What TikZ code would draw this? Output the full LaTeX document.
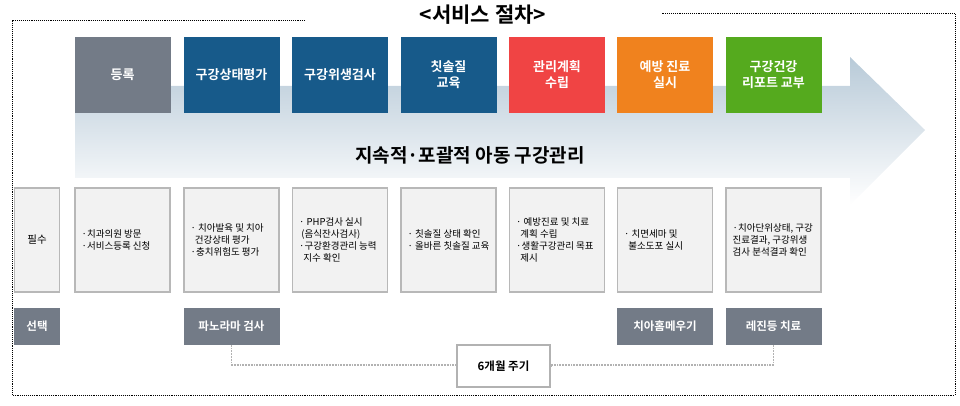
\documentclass[tikz,border=0pt]{standalone}
\usepackage{fontspec}
\setmainfont{Noto Sans CJK KR}
\newfontfamily\kb{Noto Sans CJK KR Bold}
\usetikzlibrary{shadings}
\definecolor{cgray}{HTML}{737B87}
\definecolor{cblue}{HTML}{175A8A}
\definecolor{cred}{HTML}{F04444}
\definecolor{corange}{HTML}{F0821E}
\definecolor{cgreen}{HTML}{55AA1E}
\definecolor{arrtop}{HTML}{B8CAD8}
\tikzset{
 top/.style={minimum width=96pt,minimum height=76pt,inner sep=0pt,text=white,align=center,font=\kb\fontsize{13}{16}\selectfont},
 low/.style={draw=black!28,line width=1.6pt,fill=black!5,minimum width=95pt,minimum height=104pt,inner sep=0pt,align=left},
 ltext/.style={anchor=west,align=left,font=\fontsize{9.5}{12}\selectfont,xshift=4pt},
 sel/.style={fill=cgray,minimum width=96pt,minimum height=37pt,inner sep=0pt,text=white,font=\kb\fontsize{11.5}{13}\selectfont},
 frame/.style={densely dotted,line width=0.9pt},
 conn/.style={densely dotted,line width=1.8pt,black!30}
}
\begin{document}
\begin{tikzpicture}[x=1pt,y=-1pt]
\useasboundingbox (0,0) rectangle (960,406);
% frame
\draw[frame] (305,20) -- (12,20) -- (12,395) -- (955,395) -- (955,13) -- (662,13);
\node[font=\kb\fontsize{21}{24}\selectfont] (title) at (483,15) {<서비스 절차>};
% arrow
\shade[top color=arrtop,bottom color=white] (75,86) -- (850,86) -- (850,57) -- (925,130) -- (850,205) -- (850,178) -- (75,178) -- cycle;
\node[font=\kb\fontsize{19}{22}\selectfont] (band) at (470,155) {지속적·포괄적 아동 구강관리};
% top boxes
\node[top,fill=cgray] (t1) at (122.5,75) {등록};
\node[top,fill=cblue] (t2) at (231.5,75) {구강상태평가};
\node[top,fill=cblue] (t3) at (340,75) {구강위생검사};
\node[top,fill=cblue] (t4) at (448.5,75) {칫솔질\\교육};
\node[top,fill=cred] (t5) at (557,75) {관리계획\\수립};
\node[top,fill=corange] (t6) at (665,75) {예방 진료\\실시};
\node[top,fill=cgreen] (t7) at (773.5,75) {구강건강\\리포트 교부};
% lower boxes
\node[low,minimum width=45pt,align=center,font=\fontsize{10.5}{12}\selectfont] (l0) at (37,240) {필수};
\node[low] (l1) at (122.5,240) {};
\node[ltext] at (l1.west) {·치과의원 방문\\·서비스등록 신청};
\node[low] (l2) at (231.5,240) {};
\node[ltext] at (l2.west) {· 치아발육 및 치아\\\ \ 건강상태 평가\\·충치위험도 평가};
\node[low] (l3) at (340,240) {};
\node[ltext] at (l3.west) {· PHP검사 실시\\\ (음식잔사검사)\\·구강환경관리 능력\\\ \ 지수 확인};
\node[low] (l4) at (448.5,240) {};
\node[ltext] at (l4.west) {· 칫솔질 상태 확인\\· 올바른 칫솔질 교육};
\node[low] (l5) at (557,240) {};
\node[ltext] at (l5.west) {· 예방진료 및 치료\\\ \ 계획 수립\\·생활구강관리 목표\\\ \ 제시};
\node[low] (l6) at (665,240) {};
\node[ltext] at (l6.west) {· 치면세마 및\\\ \ 불소도포 실시};
\node[low] (l7) at (773.5,240) {};
\node[ltext] at (l7.west) {·치아단위상태, 구강\\진료결과, 구강위생\\검사 분석결과 확인};
% select row
\node[sel,minimum width=46pt] (s0) at (37,326) {선택};
\node[sel] (s2) at (231.5,326) {파노라마 검사};
\node[sel] (s6) at (665,326) {치아홈메우기};
\node[sel] (s7) at (773.5,326) {레진등 치료};
% cycle
\node[draw=black!30,line width=1.5pt,fill=white,minimum width=93pt,minimum height=42pt,font=\kb\fontsize{11.5}{13}\selectfont] (cyc) at (503.5,366) {6개월 주기};
\draw[conn] (s2.south) -- ++(0,20) -| (cyc.west);
\draw[conn] (s7.south) -- ++(0,20) -| (cyc.east);
\end{tikzpicture}
\end{document}
